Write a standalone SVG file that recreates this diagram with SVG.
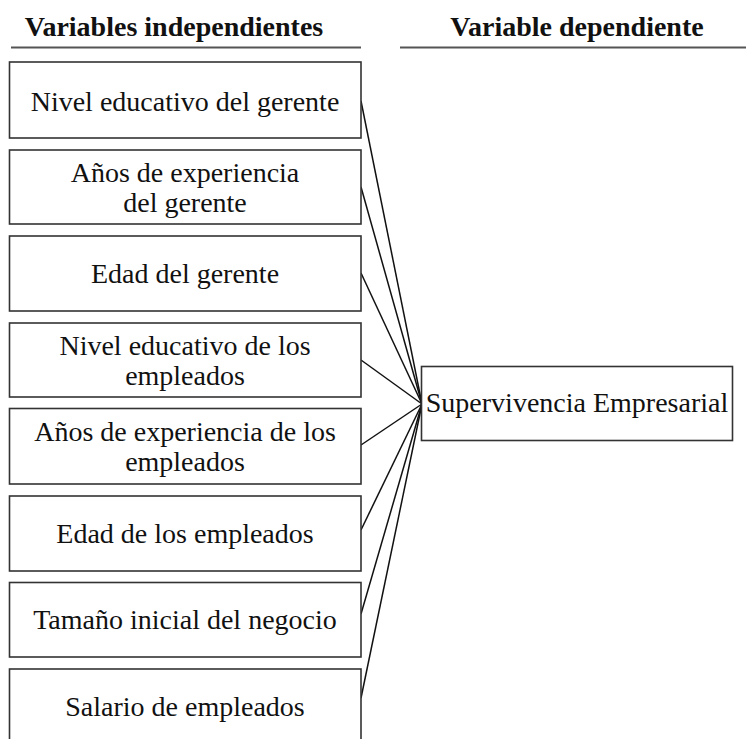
<svg xmlns="http://www.w3.org/2000/svg" width="746" height="739" viewBox="0 0 746 739">
<style>
.hd{font-family:"Liberation Serif","Times New Roman",serif;font-size:28px;font-weight:bold;fill:#111;text-anchor:middle}
.tx{font-family:"Liberation Serif","Times New Roman",serif;font-size:28px;fill:#111;text-anchor:middle}
.bx{fill:#fff;stroke:#333;stroke-width:1.6}
.rule{stroke:#555;stroke-width:2}
.cn{stroke:#111;stroke-width:1.5;fill:none}
</style>
<rect width="746" height="739" fill="#fff"/>
<g id="headers">
<text class="hd" x="174" y="35.5">Variables independientes</text>
<line class="rule" x1="11" y1="47.5" x2="361" y2="47.5"/>
<text class="hd" x="577" y="35.5">Variable dependiente</text>
<line class="rule" x1="400" y1="47.5" x2="746" y2="47.5"/>
</g>
<g id="connectors">
<line class="cn" x1="361" y1="101" x2="422" y2="404"/>
<line class="cn" x1="361" y1="187" x2="422" y2="404" stroke-width="2"/>
<line class="cn" x1="361" y1="273" x2="422" y2="404" stroke-width="2"/>
<line class="cn" x1="361" y1="360" x2="422" y2="404"/>
<line class="cn" x1="361" y1="445" x2="422" y2="404"/>
<line class="cn" x1="361" y1="530" x2="422" y2="404"/>
<line class="cn" x1="361" y1="614" x2="422" y2="404"/>
<line class="cn" x1="361" y1="698" x2="422" y2="404"/>
</g>
<g id="n1"><rect class="bx" x="9.5" y="62" width="351.5" height="76"/><text class="tx" x="185" y="110.5">Nivel educativo del gerente</text></g>
<g id="n2"><rect class="bx" x="9.5" y="150" width="351.5" height="74"/><text class="tx" x="185" y="182">Años de experiencia</text><text class="tx" x="185" y="212">del gerente</text></g>
<g id="n3"><rect class="bx" x="9.5" y="236" width="351.5" height="75"/><text class="tx" x="185" y="283">Edad del gerente</text></g>
<g id="n4"><rect class="bx" x="9.5" y="323" width="351.5" height="74"/><text class="tx" x="185" y="355">Nivel educativo de los</text><text class="tx" x="185" y="385">empleados</text></g>
<g id="n5"><rect class="bx" x="9.5" y="408.5" width="351.5" height="75.5"/><text class="tx" x="185" y="441">Años de experiencia de los</text><text class="tx" x="185" y="471">empleados</text></g>
<g id="n6"><rect class="bx" x="9.5" y="496" width="351.5" height="75"/><text class="tx" x="185" y="543">Edad de los empleados</text></g>
<g id="n7"><rect class="bx" x="9.5" y="582.5" width="351.5" height="74.5"/><text class="tx" x="185" y="629">Tamaño inicial del negocio</text></g>
<g id="n8"><rect class="bx" x="9.5" y="669" width="351.5" height="80"/><text class="tx" x="185" y="716">Salario de empleados</text></g>
<g id="target"><rect class="bx" x="421.5" y="366.5" width="311" height="74" stroke-width="2"/><text class="tx" x="577" y="412">Supervivencia Empresarial</text></g>
</svg>
